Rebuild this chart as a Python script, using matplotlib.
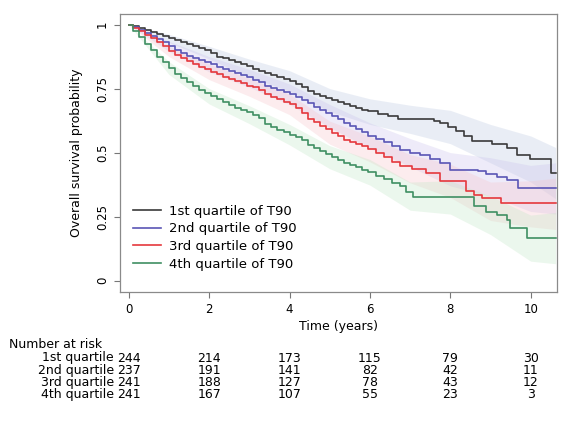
import numpy as np
import matplotlib
matplotlib.use("Agg")
import matplotlib.pyplot as plt
import matplotlib.transforms as mtransforms

plt.rcParams["font.family"] = ["DejaVu Sans"]

# Kaplan-Meier step knots (time in years, survival)
t_q1 = [0, 0.1, 0.25, 0.4, 0.55, 0.7, 0.85, 1.0, 1.15, 1.3, 1.45, 1.6, 1.75, 1.9, 2.05, 2.2,
        2.35, 2.5, 2.65, 2.8, 2.95, 3.1, 3.25, 3.4, 3.55, 3.7, 3.85, 4.0, 4.15, 4.3, 4.45,
        4.6, 4.75, 4.9, 5.05, 5.2, 5.35, 5.5, 5.65, 5.8, 5.95, 6.2, 6.45, 6.7, 7.2, 7.6,
        7.75, 7.95, 8.15, 8.35, 8.55, 9.05, 9.4, 9.65, 9.98, 10.5, 10.62]
s_q1 = [1, 0.993, 0.986, 0.979, 0.972, 0.964, 0.956, 0.946, 0.94, 0.932, 0.925, 0.917, 0.908,
        0.9, 0.89, 0.875, 0.868, 0.86, 0.852, 0.845, 0.838, 0.828, 0.818, 0.811, 0.803, 0.795,
        0.788, 0.78, 0.768, 0.755, 0.742, 0.73, 0.722, 0.713, 0.705, 0.696, 0.688, 0.681,
        0.675, 0.668, 0.661, 0.652, 0.643, 0.633, 0.63, 0.625, 0.615, 0.6, 0.583, 0.565,
        0.545, 0.535, 0.518, 0.492, 0.475, 0.42, 0.42]

t_q2 = [0, 0.1, 0.25, 0.4, 0.55, 0.7, 0.85, 1.0, 1.15, 1.3, 1.45, 1.6, 1.75, 1.9, 2.05, 2.2,
        2.35, 2.5, 2.65, 2.8, 2.95, 3.1, 3.25, 3.4, 3.55, 3.7, 3.85, 4.0, 4.15, 4.3, 4.45,
        4.6, 4.75, 4.9, 5.05, 5.2, 5.35, 5.5, 5.65, 5.8, 5.95, 6.15, 6.35, 6.55, 6.75, 7.0,
        7.25, 7.5, 7.75, 8.0, 8.7, 8.9, 9.15, 9.4, 9.68, 10.62]
s_q2 = [1, 0.99, 0.978, 0.966, 0.955, 0.942, 0.93, 0.915, 0.9, 0.888, 0.878, 0.868, 0.86,
        0.852, 0.845, 0.835, 0.826, 0.818, 0.81, 0.802, 0.795, 0.785, 0.775, 0.76, 0.752,
        0.745, 0.738, 0.728, 0.718, 0.705, 0.693, 0.678, 0.668, 0.655, 0.643, 0.63, 0.616,
        0.605, 0.593, 0.58, 0.566, 0.552, 0.54, 0.527, 0.51, 0.5, 0.49, 0.475, 0.458, 0.434,
        0.43, 0.418, 0.405, 0.392, 0.36, 0.36]

t_q3 = [0, 0.1, 0.25, 0.4, 0.55, 0.7, 0.85, 1.0, 1.15, 1.3, 1.45, 1.6, 1.75, 1.9, 2.05, 2.2,
        2.35, 2.5, 2.65, 2.8, 2.95, 3.1, 3.25, 3.4, 3.55, 3.7, 3.85, 4.0, 4.15, 4.3, 4.45,
        4.6, 4.75, 4.9, 5.05, 5.2, 5.35, 5.5, 5.65, 5.8, 5.95, 6.15, 6.35, 6.55, 6.75, 7.05,
        7.4, 7.75, 8.4, 8.6, 8.8, 9.25, 10.62]
s_q3 = [1, 0.988, 0.974, 0.96, 0.946, 0.932, 0.918, 0.895, 0.882, 0.87, 0.858, 0.847, 0.836,
        0.826, 0.815, 0.805, 0.795, 0.786, 0.778, 0.77, 0.762, 0.755, 0.745, 0.728, 0.718,
        0.708, 0.698, 0.688, 0.673, 0.655, 0.632, 0.618, 0.605, 0.592, 0.578, 0.565, 0.551,
        0.542, 0.533, 0.524, 0.514, 0.5, 0.482, 0.465, 0.447, 0.435, 0.421, 0.39, 0.35, 0.335,
        0.323, 0.302, 0.302]

t_q4 = [0, 0.1, 0.25, 0.4, 0.55, 0.7, 0.85, 1.0, 1.15, 1.3, 1.45, 1.6, 1.75, 1.9, 2.05, 2.2,
        2.35, 2.5, 2.65, 2.8, 2.95, 3.1, 3.25, 3.4, 3.55, 3.7, 3.85, 4.0, 4.15, 4.3, 4.45,
        4.6, 4.75, 4.9, 5.05, 5.2, 5.35, 5.5, 5.65, 5.8, 5.95, 6.15, 6.35, 6.55, 6.75, 6.9,
        7.08, 8.6, 8.9, 9.15, 9.4, 9.48, 9.9, 10.62]
s_q4 = [1, 0.975, 0.95, 0.925, 0.9, 0.875, 0.852, 0.83, 0.808, 0.79, 0.775, 0.76, 0.745,
        0.732, 0.72, 0.708, 0.697, 0.686, 0.676, 0.667, 0.658, 0.648, 0.637, 0.61, 0.6, 0.59,
        0.58, 0.57, 0.56, 0.548, 0.53, 0.518, 0.506, 0.494, 0.482, 0.47, 0.46, 0.452, 0.443,
        0.434, 0.423, 0.41, 0.396, 0.382, 0.368, 0.348, 0.325, 0.29, 0.27, 0.255, 0.238,
        0.206, 0.166, 0.166]

# confidence band edges
band_t = [0, 1, 2, 3, 4, 5, 6, 7, 8, 9, 10, 10.62]
lo_q1 = [1, 0.93, 0.865, 0.795, 0.74, 0.66, 0.61, 0.575, 0.535, 0.46, 0.385, 0.32]
hi_q1 = [1, 0.962, 0.915, 0.865, 0.82, 0.75, 0.71, 0.685, 0.665, 0.61, 0.565, 0.52]
lo_q2 = [1, 0.895, 0.815, 0.755, 0.688, 0.598, 0.516, 0.445, 0.37, 0.33, 0.27, 0.26]
hi_q2 = [1, 0.935, 0.875, 0.825, 0.768, 0.688, 0.616, 0.555, 0.5, 0.48, 0.45, 0.46]
lo_q3 = [1, 0.875, 0.785, 0.72, 0.648, 0.533, 0.464, 0.382, 0.325, 0.235, 0.21, 0.2]
hi_q3 = [1, 0.915, 0.845, 0.79, 0.728, 0.623, 0.564, 0.492, 0.455, 0.385, 0.39, 0.4]
lo_q4 = [1, 0.805, 0.69, 0.613, 0.53, 0.437, 0.373, 0.275, 0.26, 0.18, 0.076, 0.066]
hi_q4 = [1, 0.855, 0.75, 0.683, 0.61, 0.527, 0.473, 0.385, 0.39, 0.33, 0.256, 0.266]

labels = ["1st quartile of T90", "2nd quartile of T90", "3rd quartile of T90", "4th quartile of T90"]
colors = ["#3a3a3a", "#5a55b5", "#e5383d", "#3f8f62"]
band_colors = ["#b9c6e0", "#c9c0ec", "#f6c2c8", "#bfe6c4"]

risk_times = [0, 2, 4, 6, 8, 10]
risk_labels = ["1st quartile", "2nd quartile", "3rd quartile", "4th quartile"]
risk_q1 = [244, 214, 173, 115, 79, 30]
risk_q2 = [237, 191, 141, 82, 42, 11]
risk_q3 = [241, 188, 127, 78, 43, 12]
risk_q4 = [241, 167, 107, 55, 23, 3]

fig = plt.figure(figsize=(5.63, 4.21), dpi=100)
ax = fig.add_axes([0.213, 0.306, 0.776, 0.660])

bands = [(lo_q1, hi_q1), (lo_q2, hi_q2), (lo_q3, hi_q3), (lo_q4, hi_q4)]
for (lo, hi), bc in zip(bands, band_colors):
    ax.fill_between(band_t, lo, hi, color=bc, alpha=0.3, linewidth=0)

curves = [(t_q1, s_q1), (t_q2, s_q2), (t_q3, s_q3), (t_q4, s_q4)]
for (t, s), c, lab in zip(curves, colors, labels):
    ax.plot(t, s, drawstyle="steps-post", color=c, lw=1.2, label=lab)

ax.set_xlim(-0.22, 10.65)
ax.set_ylim(-0.045, 1.04)
ax.set_xticks(risk_times)
ax.set_yticks([0, 0.25, 0.5, 0.75, 1])
ax.set_yticklabels(["0", "0.25", "0.5", "0.75", "1"], rotation=90, va="center")
ax.tick_params(labelsize=8.5, color="#777777", length=4, width=0.8, pad=4)
for sp in ax.spines.values():
    sp.set_color("#8a8a8a")
    sp.set_linewidth(0.9)
ax.set_xlabel("Time (years)", fontsize=9, labelpad=3)
ax.set_ylabel("Overall survival probability", fontsize=9)
ax.yaxis.set_label_coords(-0.085, 0.5)

ax.legend(loc="lower left", bbox_to_anchor=(0.0, 0.03), frameon=False, fontsize=9.5,
          handlelength=2.1, handletextpad=0.6, labelspacing=0.35, borderaxespad=0.6)

# number at risk table
trans = mtransforms.blended_transform_factory(ax.transData, fig.transFigure)
fig.text(9 / 563, 1 - 344 / 421, "Number at risk", fontsize=9, va="center", ha="left")
rows = [risk_q1, risk_q2, risk_q3, risk_q4]
for i, (lab, vals) in enumerate(zip(risk_labels, rows)):
    y = 1 - (358 + 12.3 * i) / 421
    fig.text(114 / 563, y, lab, fontsize=9, va="center", ha="right")
    for tt, v in zip(risk_times, vals):
        ax.text(tt, y, str(v), transform=trans, fontsize=9, va="center", ha="center")

fig.savefig("out.png", dpi=100)
